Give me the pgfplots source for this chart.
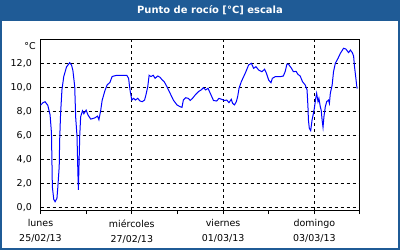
\documentclass[border=0pt]{standalone}
\usepackage{fontspec}
\setmainfont{DejaVu Sans}
\usepackage{pgfplots}
\pgfplotsset{compat=1.18}
\definecolor{barblue}{RGB}{31,91,150}
\definecolor{lineblue}{RGB}{0,0,255}
\begin{document}
\begin{tikzpicture}
\fill[white] (0bp,0bp) rectangle (400bp,250bp);
\fill[barblue] (0bp,229bp) rectangle (400bp,250bp);
\draw[barblue, line width=2bp] (1bp,1bp) rectangle (399bp,249bp);
\node[white, font=\fontsize{10}{12}\selectfont\bfseries] at (210bp,239.5bp) {Punto de rocío [°C] escala};
\node[anchor=east, inner sep=0pt, font=\fontsize{9.5}{12}\selectfont] at (36bp,204bp) {°C};
\begin{axis}[
  at={(40.5bp,40bp)}, anchor=south west,
  scale only axis, width=319.5bp, height=170bp,
  xmin=0, xmax=7, ymin=-0.22, ymax=13.94,
  xtick={0,2,4,6}, minor xtick={1,3,5,7},
  xticklabels={lunes\\25/02/13, miércoles\\27/02/13, viernes\\01/03/13, domingo\\03/03/13},
  ytick={0,2,4,6,8,10,12},
  xmajorgrids, ymajorgrids,
  grid style={black, line width=0.8bp, dash pattern=on 3bp off 3bp},
  axis line style={black, line width=1bp},
  tick pos=left,
  tick align=outside,
  major tick length=4bp, minor tick length=4bp,
  x tick style={black, line width=1bp},
  y tick style={draw=none},
  /pgf/number format/assume math mode=true,
  tick label style={font=\fontsize{9.5}{15}\selectfont},
  xticklabel style={align=center, inner sep=0pt, anchor=north, yshift=-5.5bp},
  yticklabel style={inner sep=0pt, anchor=east, xshift=-4.5bp,
    /pgf/number format/fixed, /pgf/number format/fixed zerofill,
    /pgf/number format/precision=1, /pgf/number format/use comma},
]
\addplot[lineblue, line width=1bp, mark=none] coordinates {
(0.00,8.5) (0.05,8.7) (0.10,8.8) (0.16,8.5) (0.21,7.7) (0.24,6.2) (0.26,1.7) (0.29,0.67)
(0.32,0.47) (0.36,0.75) (0.38,1.7) (0.41,3.4) (0.42,5.6) (0.44,7.8) (0.47,9.8) (0.51,10.9)
(0.57,11.7) (0.64,12.05) (0.68,11.85) (0.71,11.4) (0.75,10.05) (0.77,7.55) (0.80,5.9) (0.82,2.8)
(0.83,1.45) (0.86,6.0) (0.88,7.55) (0.92,8.05) (0.95,7.8) (1.00,8.1) (1.04,7.7) (1.10,7.35)
(1.19,7.45) (1.25,7.6) (1.28,7.3) (1.32,8.1) (1.35,8.9) (1.41,9.7) (1.46,10.2) (1.49,10.3)
(1.52,10.4) (1.57,10.9) (1.67,11.0) (1.89,11.0) (1.93,10.75) (1.96,9.8) (2.00,8.94) (2.04,9.08)
(2.08,8.94) (2.13,9.08) (2.18,8.86) (2.23,8.8) (2.28,8.94) (2.31,9.36) (2.35,10.05) (2.38,11.0)
(2.42,10.9) (2.47,11.0) (2.51,10.75) (2.57,10.94) (2.62,10.83) (2.67,10.6) (2.71,10.47) (2.77,10.05)
(2.84,9.5) (2.91,8.94) (2.99,8.53) (3.06,8.38) (3.10,8.33) (3.13,8.94) (3.18,9.13) (3.24,9.08)
(3.28,8.9) (3.33,9.08) (3.39,9.36) (3.46,9.64) (3.52,9.78) (3.57,9.97) (3.62,9.78) (3.67,9.92)
(3.72,9.5) (3.79,8.9) (3.86,8.86) (3.91,9.08) (3.97,9.0) (4.03,8.9) (4.08,8.94) (4.13,8.72)
(4.18,9.0) (4.21,8.66) (4.25,8.53) (4.29,8.8) (4.32,9.22) (4.35,9.92) (4.40,10.47) (4.45,10.88)
(4.50,11.3) (4.56,11.86) (4.62,12.0) (4.67,11.58) (4.72,11.72) (4.78,11.44) (4.85,11.3) (4.91,11.5)
(4.95,11.17) (5.00,10.6) (5.05,10.38) (5.08,10.75) (5.14,10.88) (5.25,10.88) (5.32,10.94) (5.36,11.3)
(5.40,11.94) (5.43,11.94) (5.50,11.58) (5.54,11.3) (5.60,11.33) (5.64,11.08) (5.69,10.94) (5.74,10.47)
(5.80,10.19) (5.84,9.78) (5.86,8.38) (5.87,7.28) (5.89,6.58) (5.92,6.39) (5.95,7.28) (5.98,7.83)
(6.00,8.25) (6.03,9.08) (6.05,9.5) (6.08,8.8) (6.10,9.08) (6.13,8.38) (6.15,8.1) (6.17,7.28)
(6.19,6.67) (6.21,7.55) (6.24,8.38) (6.27,8.8) (6.31,8.94) (6.33,8.66) (6.35,9.5) (6.39,10.19)
(6.42,11.3) (6.46,12.0) (6.52,12.42) (6.57,12.83) (6.64,13.25) (6.69,13.19) (6.75,12.89) (6.79,13.1)
(6.83,12.9) (6.86,12.6) (6.88,11.72) (6.91,10.75) (6.93,10.05) (6.94,9.9)
};
\end{axis}
\pgfresetboundingbox
\path[use as bounding box] (0bp,0bp) rectangle (400bp,250bp);
\end{tikzpicture}
\end{document}
